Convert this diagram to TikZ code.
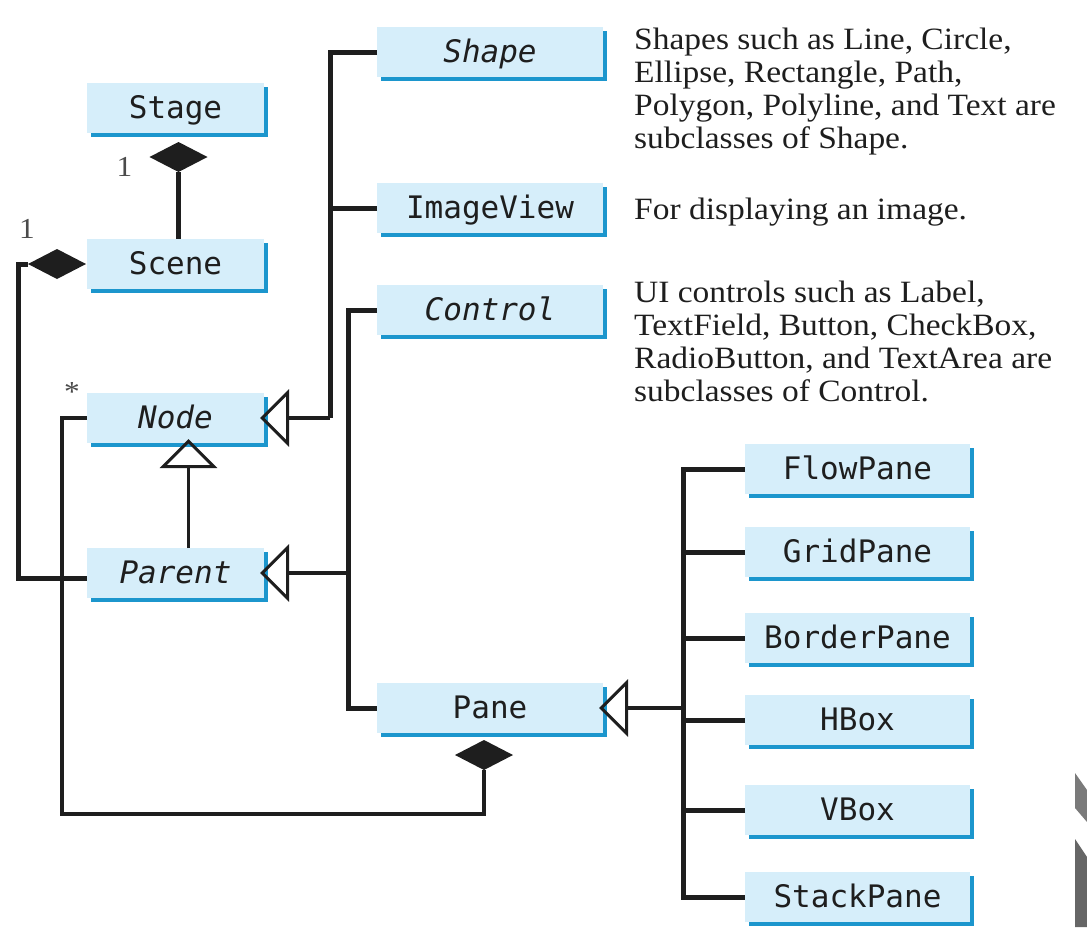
\documentclass[tikz,border=0pt]{standalone}
\usepackage{fontspec}
\usepackage{xcolor}
\usetikzlibrary{arrows.meta, positioning, shapes.geometric, shadows}
\newfontfamily\boxfont{DejaVu Sans Mono}
\newfontfamily\descfont[FakeStretch=1.08]{Liberation Serif}
\definecolor{boxfill}{HTML}{D6EEFA}
\definecolor{boxshade}{HTML}{1C96CD}
\definecolor{inkdark}{HTML}{1E1E1E}
\definecolor{scangray}{HTML}{7A7A7A}
\definecolor{scandark}{HTML}{666666}
\tikzset{
  cls/.style={rectangle, fill=boxfill, inner sep=0pt, outer sep=0pt,
              minimum height=50pt, text height=21pt, text depth=0pt,
              text=inkdark, font=\boxfont\fontsize{31}{31}\selectfont,
              drop shadow={shadow xshift=4pt, shadow yshift=-4pt,
                           fill=boxshade, opacity=1}},
  lcls/.style={cls, minimum width=177pt},
  mcls/.style={cls, minimum width=226pt},
  rcls/.style={cls, minimum width=225pt},
  abst/.style={font=\boxfont\itshape\fontsize{31}{31}\selectfont},
  comp/.style={diamond, fill=inkdark, inner sep=0pt, outer sep=0pt,
               minimum width=58pt, minimum height=30pt},
  desc/.style={font=\descfont\fontsize{31}{33}\selectfont, align=left,
               inner sep=0pt, text=inkdark, anchor=north west},
  mult/.style={font=\descfont\fontsize{29}{29}\selectfont,
               text=inkdark!80, inner sep=0pt},
  branch/.style={line width=5pt, draw=inkdark},
  link/.style={line width=4pt, draw=inkdark},
  gen/.style={line width=3.5pt, draw=inkdark, shorten >=-4pt,
              -{Triangle[open, length=29pt, width=57pt, line width=3pt]}}
}
\begin{document}
\begin{tikzpicture}[x=1pt, y=-1pt]
  \useasboundingbox (0,0) rectangle (1087,927);

  %% -- Left column --
  \node[lcls] (stage) at (175.5,108) {Stage};
  \node[lcls, below=106pt of stage] (scene) {Scene};
  \node[lcls, abst, below=104pt of scene] (nodecls) {Node};
  \node[lcls, abst, below=105pt of nodecls] (parent) {Parent};

  %% -- Middle column --
  \node[mcls, abst] (shape) at (490,52) {Shape};
  \node[mcls, below=106pt of shape] (imageview) {ImageView};
  \node[mcls, abst, below=52pt of imageview] (control) {Control};
  \node[mcls, below=348pt of control] (pane) {Pane};

  %% -- Right column --
  \node[rcls] (flowpane) at (857.5,469) {FlowPane};
  \node[rcls, below=33pt of flowpane] (gridpane) {GridPane};
  \node[rcls, below=36pt of gridpane] (borderpane) {BorderPane};
  \node[rcls, below=32pt of borderpane] (hbox) {HBox};
  \node[rcls, below=40pt of hbox] (vbox) {VBox};
  \node[rcls, below=37pt of vbox] (stackpane) {StackPane};

  %% -- Descriptions --
  \node[desc] (descShape) at (634,28)
    {Shapes such as Line, Circle,\\Ellipse, Rectangle, Path,\\
     Polygon, Polyline, and Text are\\subclasses of Shape.};
  \node[desc] (descImage) at (634,198) {For displaying an image.};
  \node[desc] (descControl) at (634,281)
    {UI controls such as Label,\\TextField, Button, CheckBox,\\
     RadioButton, and TextArea are\\subclasses of Control.};

  %% -- Composition diamonds --
  \node[comp, below=9pt of stage, xshift=3pt] (dstage) {};
  \node[comp, left=1pt of scene] (dscene) {};
  \node[comp, below=7pt of pane, xshift=-6pt] (dpane) {};

  %% -- Multiplicities --
  \node[mult, left=17pt of dstage, yshift=-10pt] (mstage) {1};
  \node[mult] (mscene) at ([shift={(-30,-35)}]dscene.center) {1};
  \node[mult] (mnode) at ([shift={(-15,-26)}]nodecls.west) {*};

  %% -- Composition links --
  \draw[branch] (dstage) -- (dstage |- scene.north);
  \draw[branch] (dscene.west) -- ++(-10,0) |- ([yshift=-5pt]parent.west);
  \draw[link] (nodecls.west) -- ++(-25,0) |- ([yshift=-44pt]dpane.south)
              -- (dpane.south);

  %% -- Node hierarchy --
  \path (shape.west) ++(-47,0) coordinate (shapeKnee);
  \coordinate (nodeJoin) at (shapeKnee |- nodecls.east);
  \draw[branch] (shape.west) -| (nodeJoin);
  \draw[branch] (imageview.west) -- (imageview.west -| nodeJoin);
  \draw[gen] (nodeJoin) -- (nodecls.east);
  \draw[gen] ([xshift=13pt]parent.north) -- ([xshift=13pt]nodecls.south);

  %% -- Parent hierarchy --
  \path (control.west) ++(-29,0) coordinate (controlKnee);
  \draw[branch] (control.west) -| (controlKnee |- pane.west) -- (pane.west);
  \draw[gen] (controlKnee |- parent.east) -- (parent.east);

  %% -- Pane hierarchy --
  \path (flowpane.west) ++(-62,0) coordinate (flowKnee);
  \draw[branch] (flowpane.west) -| (flowKnee |- stackpane.west)
                -- (stackpane.west);
  \draw[branch] (gridpane.west) -- (gridpane.west -| flowKnee);
  \draw[branch] (borderpane.west) -- (borderpane.west -| flowKnee);
  \draw[branch] (hbox.west) -- (hbox.west -| flowKnee);
  \draw[branch] (vbox.west) -- (vbox.west -| flowKnee);
  \draw[gen] (flowKnee |- pane.east) -- (pane.east);

  %% -- Scan edge --
  \fill[scangray] (1075,773) -- (1087,790) -- (1087,822) -- (1075,808) -- cycle;
  \fill[scandark] (1075,839) -- (1087,857) -- (1087,927) -- (1075,927) -- cycle;
\end{tikzpicture}
\end{document}
